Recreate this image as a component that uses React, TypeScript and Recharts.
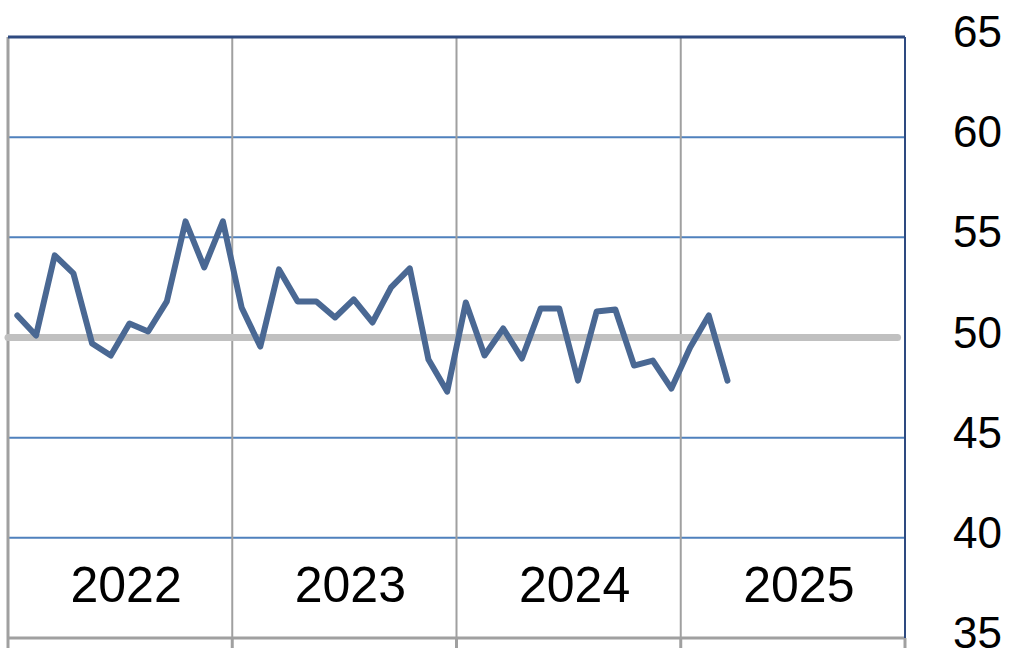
import React from "react";
import { LineChart, Line, XAxis, YAxis, ReferenceLine } from "recharts";

const months: number[] = Array.from({ length: 39 }, (_, i) => i + 0.5);
const values: number[] = [
  51.1, 50.1, 54.1, 53.2, 49.7, 49.1, 50.7, 50.3, 51.8, 55.8, 53.5, 55.8,
  51.5, 49.55, 53.4, 51.8, 51.8, 51.0, 51.9, 50.75, 52.5, 53.45, 48.9, 47.3,
  51.75, 49.1, 50.45, 48.95, 51.45, 51.45, 47.85, 51.3, 51.4, 48.6, 48.85, 47.45,
  49.5, 51.1, 47.85,
];
const yearLabels: string[] = ["2022", "2023", "2024", "2025"];
const yearCenters: number[] = [6, 18, 30, 42];
const yearBounds: number[] = [0, 12, 24, 36, 48];
const yTicks: number[] = [35, 40, 45, 50, 55, 60, 65];
const blueGrid: number[] = [40, 45, 55, 60];
const innerVertical: number[] = [12, 24, 36];

const data = months.map((m, i) => ({ m, v: values[i] }));
const xTicks = [...yearBounds, ...yearCenters].sort((a, b) => a - b);

const FONT = "'Liberation Sans', Arial, sans-serif";

const XTick = (props: any) => {
  const { x, y, payload } = props;
  const val = payload.value as number;
  const idx = yearCenters.indexOf(val);
  if (idx >= 0) {
    return (
      <text
        x={x + 6}
        y={y - 46}
        textAnchor="middle"
        fontSize={50}
        fontFamily={FONT}
        fill="#000"
      >
        {yearLabels[idx]}
      </text>
    );
  }
  return <line x1={x} x2={x} y1={y - 10} y2={y} stroke="#A0A0A0" strokeWidth={3} />;
};

const YTick = (props: any) => {
  const { x, y, payload } = props;
  return (
    <text x={x} y={y + 10} textAnchor="start" fontSize={44} fontFamily={FONT} fill="#000">
      {payload.value}
    </text>
  );
};

export default function App() {
  return (
    <div style={{ position: "absolute", left: 0, top: 0, background: "#fff" }}>
      <LineChart width={1024} height={662} data={data} margin={{ top: 37, right: 0, left: 8, bottom: 0 }}>
        <XAxis
          dataKey="m"
          type="number"
          domain={[0, 48]}
          ticks={xTicks}
          tickLine={false}
          tickSize={10}
          tickMargin={0}
          height={24}
          interval={0}
          axisLine={{ stroke: "#A0A0A0", strokeWidth: 3 }}
          tick={<XTick />}
        />
        <YAxis
          orientation="right"
          domain={[35, 65]}
          ticks={yTicks}
          width={119}
          tickLine={false}
          tickSize={0}
          tickMargin={48}
          interval={0}
          axisLine={{ stroke: "#2E4A80", strokeWidth: 2 }}
          tick={<YTick />}
        />
        {blueGrid.map((g) => (
          <ReferenceLine key={"h" + g} y={g} stroke="#4F81BD" strokeWidth={2} />
        ))}
        {innerVertical.map((g) => (
          <ReferenceLine key={"v" + g} x={g} stroke="#A0A0A0" strokeWidth={2} />
        ))}
        <ReferenceLine x={0} stroke="#A0A0A0" strokeWidth={3} />
        <ReferenceLine y={65} stroke="#2E4A80" strokeWidth={3} />
        <ReferenceLine
          segment={[{ x: 0, y: 50 }, { x: 47.6, y: 50 }]}
          stroke="#C0C0C0"
          strokeWidth={7}
          strokeLinecap="round"
        />
        <Line
          type="linear"
          dataKey="v"
          stroke="#4A6893"
          strokeWidth={6}
          dot={false}
          isAnimationActive={false}
          strokeLinejoin="round"
          strokeLinecap="round"
        />
      </LineChart>
    </div>
  );
}
